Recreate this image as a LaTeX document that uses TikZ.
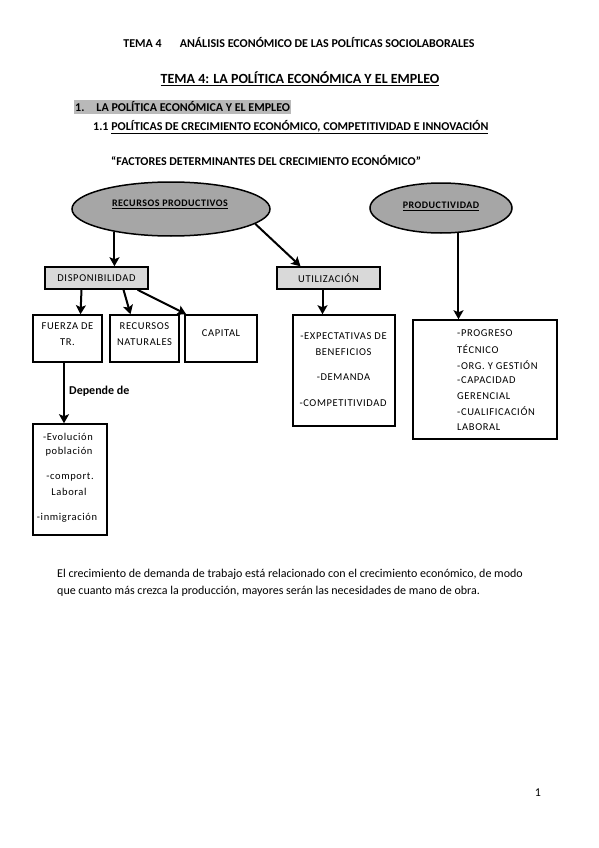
\documentclass[tikz,border=0pt]{standalone}
\usepackage{fontspec}
\setmainfont{Carlito}
\usetikzlibrary{shapes.geometric,arrows.meta}
\begin{document}
\begin{tikzpicture}[x=1pt,y=-1pt,
  box/.style={draw,line width=1.5pt,inner sep=0pt},
  graybox/.style={box,fill=gray!30},
  oval/.style={ellipse,draw,line width=1.5pt,fill=gray!70,inner sep=0pt},
  arr/.style={line width=2pt,-{Stealth[length=9pt,width=10pt,inset=2pt]}},
  lbl/.style={inner sep=0pt,font=\fontsize{10.5}{12}\selectfont\addfontfeature{LetterSpace=6}},
  lblb/.style={inner sep=0pt,font=\fontsize{10}{11}\selectfont\bfseries\addfontfeature{LetterSpace=5}},
  hd/.style={inner sep=0pt,font=\fontsize{12}{14}\selectfont\bfseries},
  body/.style={inner sep=0pt,font=\fontsize{12}{14}\selectfont},
]
\useasboundingbox[fill=white] (0,0) rectangle (599,848);

% headings
\node[hd] (h1) at (299,43) {TEMA 4\hspace{1.5em}ANÁLISIS ECONÓMICO DE LAS POLÍTICAS SOCIOLABORALES};
\node[hd,font=\fontsize{14}{16}\selectfont\bfseries] (h2) at (300,79) {\underline{TEMA 4: LA POLÍTICA ECONÓMICA Y EL EMPLEO}};
\node[hd,anchor=west,fill=gray!55,inner xsep=1pt,inner ysep=2pt] (h3) at (74,107) {1.\hspace{1em}LA POLÍTICA ECONÓMICA Y EL EMPLEO};
\node[hd,anchor=west] (h4) at (93,127) {1.1 \underline{POLÍTICAS DE CRECIMIENTO ECONÓMICO, COMPETITIVIDAD E INNOVACIÓN}};
\node[hd,anchor=west] (h5) at (111,161) {“FACTORES DETERMINANTES DEL CRECIMIENTO ECONÓMICO”};

% ellipses
\node[oval,minimum width=198,minimum height=54] (rp) at (171,209) {};
\node[lblb] (rpt) at (170,204) {\underline{RECURSOS PRODUCTIVOS}};
\node[oval,minimum width=142,minimum height=50] (prod) at (441,208) {};
\node[lblb] (prodt) at (441,206) {\underline{PRODUCTIVIDAD}};

% gray boxes
\node[graybox,minimum width=103,minimum height=22] (dispo) at (96.5,278) {};
\node[lbl] (dispot) at (96.5,278) {DISPONIBILIDAD};
\node[graybox,minimum width=103,minimum height=22] (util) at (328.5,278) {};
\node[lbl] (utilt) at (328.5,278) {UTILIZACIÓN};

% white boxes
\node[box,minimum width=69,minimum height=47] (fuerza) at (67.5,338.5) {};
\node[lbl] (f1) at (67.5,326) {FUERZA DE};
\node[lbl] (f2) at (67.5,342) {TR.};

\node[box,minimum width=69,minimum height=47] (recnat) at (144.5,338.5) {};
\node[lbl] (r1) at (144.5,326) {RECURSOS};
\node[lbl] (r2) at (144.5,342) {NATURALES};

\node[box,minimum width=72,minimum height=47] (capital) at (221,338.5) {};
\node[lbl] (c1) at (221,333) {CAPITAL};

\node[box,minimum width=74,minimum height=111] (lower) at (70,479.5) {};
\node[lbl] (l1) at (68,437) {-Evolución};
\node[lbl] (l2) at (69,452) {población};
\node[lbl] (l3) at (70,477) {-comport.};
\node[lbl] (l4) at (69,492) {Laboral};
\node[lbl] (l5) at (67,518) {-inmigración};

\node[box,minimum width=102,minimum height=111] (expect) at (344,370.5) {};
\node[lbl] (e1) at (343.5,336) {-EXPECTATIVAS DE};
\node[lbl] (e2) at (343.5,352) {BENEFICIOS};
\node[lbl] (e3) at (343.5,377) {-DEMANDA};
\node[lbl] (e4) at (343,403) {-COMPETITIVIDAD};

\node[box,minimum width=144,minimum height=119] (prog) at (485,379.5) {};
\node[lbl,anchor=west] (p1) at (457,333) {-PROGRESO};
\node[lbl,anchor=west] (p2) at (457,349) {TÉCNICO};
\node[lbl,anchor=west] (p3) at (457,365) {-ORG. Y GESTIÓN};
\node[lbl,anchor=west] (p4) at (457,380) {-CAPACIDAD};
\node[lbl,anchor=west] (p5) at (457,396) {GERENCIAL};
\node[lbl,anchor=west] (p6) at (457,411) {-CUALIFICACIÓN};
\node[lbl,anchor=west] (p7) at (457,427) {LABORAL};

% arrows
\draw[arr] (rp.202) -- (rp.202 |- dispo.north);
\draw[arr] (rp.350) -- ([xshift=-28pt]util.north);
\draw[arr] ([xshift=-6pt]util.south) -- ([xshift=-6pt]util.south |- expect.north);
\draw[arr] (prod.305) -- (prod.305 |- prog.north);
\draw[arr] ([xshift=-15pt]dispo.south) -- ([xshift=13pt]fuerza.north);
\draw[arr] ([xshift=27pt]dispo.south) -- ([xshift=-14pt]recnat.north);
\draw[arr] ([xshift=41pt]dispo.south) -- ([xshift=2pt]capital.north west);
\draw[arr] ([xshift=-3.5pt]fuerza.south) -- ([xshift=-3.5pt]fuerza.south |- lower.north);
\node[hd,anchor=west] (dep) at (69,391) {Depende de};

% paragraph
\node[body,anchor=west] (t1) at (57,574) {El crecimiento de demanda de trabajo está relacionado con el crecimiento económico, de modo};
\node[body,anchor=west] (t2) at (57,591) {que cuanto más crezca la producción, mayores serán las necesidades de mano de obra.};

\node[body] (pg) at (538,793) {1};
\end{tikzpicture}
\end{document}
